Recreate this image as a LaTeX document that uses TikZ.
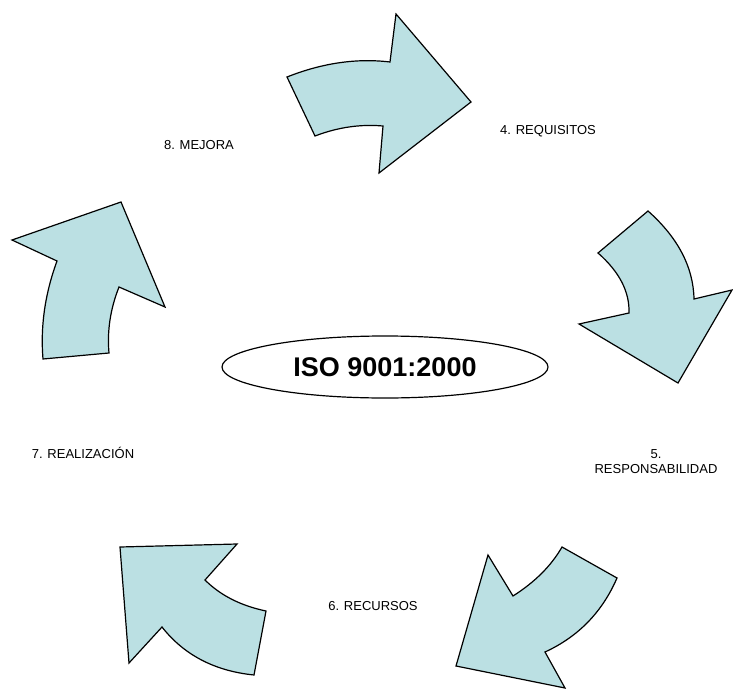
\documentclass[tikz,border=0pt]{standalone}
\usepackage{fontspec}
\setmainfont{Liberation Sans}
\usetikzlibrary{shapes.geometric}
\definecolor{arrowfill}{RGB}{187,224,227}
\tikzset{
  bigarrow/.style={fill=arrowfill, draw=black, line width=1.2pt, line join=miter},
  steplabel/.style={font=\fontsize{13}{15}\selectfont, align=center, inner sep=1pt}
}
\begin{document}
\begin{tikzpicture}[x=1pt, y=-1pt]
  \useasboundingbox (0,0) rectangle (733,690);
  % 1. flechas del ciclo
  \path[bigarrow] (287,77) .. controls (322.3,63) and (356.7,58) .. (390,62) -- (396,14) -- (471,102)
    -- (379,173) -- (383,126) .. controls (360.3,124) and (337.7,127.3) .. (315,136) -- cycle;
  \path[bigarrow] (648,211) .. controls (678,237.7) and (693.3,267) .. (694,299) -- (732,290) -- (678,383)
    -- (579,324) -- (629,313) .. controls (629.7,291.7) and (619.3,271.7) .. (598,253) -- cycle;
  \path[bigarrow] (562,547) .. controls (551.3,565.7) and (535,582) .. (513,596) -- (488,555) -- (456,666)
    -- (565,688) -- (545,652) .. controls (578.3,636.7) and (602.3,612) .. (617,578) -- cycle;
  \path[bigarrow] (237,544) -- (205,580) .. controls (220.3,595.3) and (240.7,605.7) .. (266,611) -- (254,675)
    .. controls (214.7,671) and (184,655) .. (162,627) -- (129,663) -- (120,547) -- cycle;
  \path[bigarrow] (43,359) .. controls (40.3,326.3) and (45,293.7) .. (57,261) -- (12,240) -- (121,202)
    -- (165,307) -- (119,287) .. controls (110.3,309) and (107,331) .. (109,353) -- cycle;

  % 2. elipse central
  \node[ellipse, draw, line width=1.2pt, minimum width=326pt, minimum height=62pt, inner sep=0pt,
    font=\fontsize{27}{30}\selectfont\bfseries] (iso) at (385,367) {ISO 9001:2000};

  % 3. etiquetas
  \node[steplabel] (requisitos) at (548,131) {4. REQUISITOS};
  \node[steplabel] (responsabilidad) at (656,462) {5.\\RESPONSABILIDAD};
  \node[steplabel] (recursos) at (373,606) {6. RECURSOS};
  \node[steplabel] (realizacion) at (83,453) {7. REALIZACIÓN};
  \node[steplabel] (mejora) at (199,145) {8. MEJORA};
\end{tikzpicture}
\end{document}
